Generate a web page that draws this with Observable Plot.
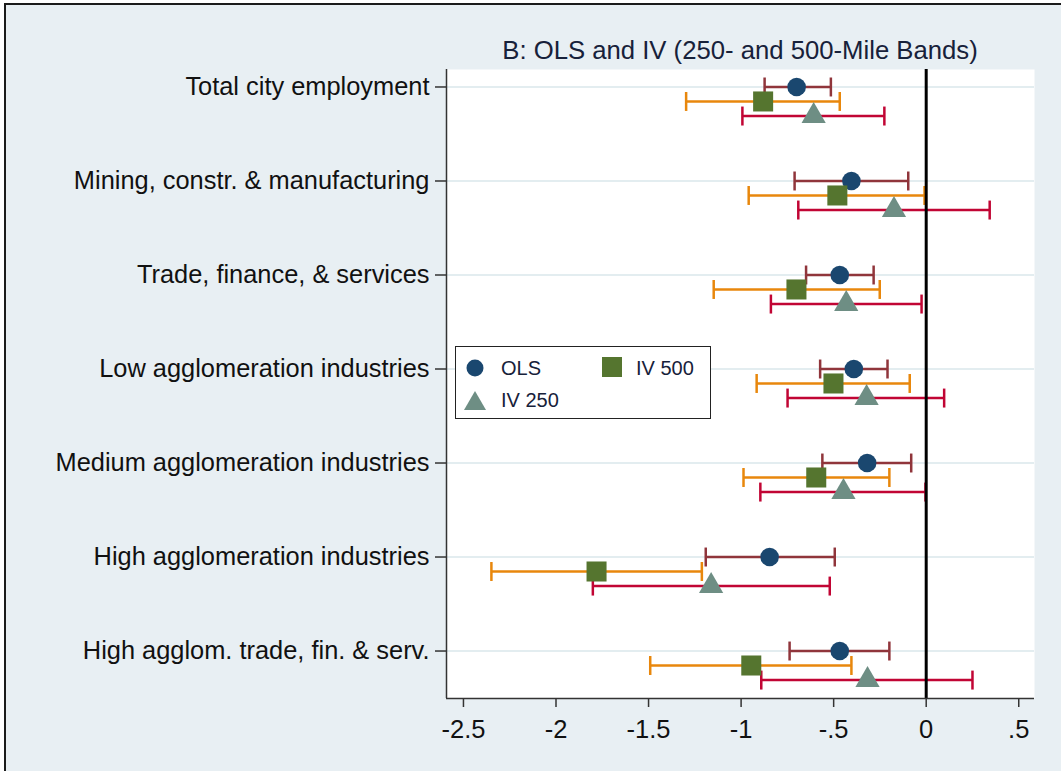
<!DOCTYPE html>
<html>
<head>
<meta charset="utf-8">
<script src="https://cdn.jsdelivr.net/npm/d3@7"></script>
<script src="https://cdn.jsdelivr.net/npm/@observablehq/plot@0.6"></script>
<style>
  html, body { margin: 0; padding: 0; background: #ffffff; }
  body { width: 1061px; height: 771px; position: relative; overflow: hidden;
         font-family: "Liberation Sans", Arial, sans-serif; }
  #bg { position: absolute; left: 4px; top: 3px; width: 1057px; height: 768px;
        background: #e8eff3; border-left: 2px solid #1b1b1b; border-top: 2px solid #1b1b1b;
        box-sizing: border-box; }
  #chart { position: absolute; left: 0; top: 0; }
  #title { position: absolute; left: 446px; width: 588px; top: 35px; height: 30px;
           line-height: 30px; text-align: center; font-size: 25.7px; color: #17213a; white-space: nowrap; }
  #legend { position: absolute; left: 455px; top: 346px; width: 256px; height: 73px;
            background: #ffffff; border: 1.5px solid #222; box-sizing: border-box; }
  #legend svg { position: absolute; left: 0; top: 0; }
  #legend .lab { position: absolute; font-size: 20px; line-height: 22px; color: #17213a; white-space: nowrap; }
</style>
</head>
<body>
<div id="bg"></div>
<div id="chart"></div>
<div id="title">B: OLS and IV (250- and 500-Mile Bands)</div>
<div id="legend">
  <svg width="256" height="73">
    <circle cx="19" cy="21" r="8.5" fill="#1a476f"></circle>
    <rect x="146" y="10" width="20" height="20" fill="#55752f"></rect>
    <path d="M19,44 L30,63 L8,63 Z" fill="#6e8e84"></path>
  </svg>
  <span class="lab" style="left:45px; top:10px;">OLS</span>
  <span class="lab" style="left:180px; top:10px;">IV 500</span>
  <span class="lab" style="left:45px; top:42px;">IV 250</span>
</div>
<script>
// ---- data ----
const categories = [
  "Total city employment",
  "Mining, constr. & manufacturing",
  "Trade, finance, & services",
  "Low agglomeration industries",
  "Medium agglomeration industries",
  "High agglomeration industries",
  "High agglom. trade, fin. & serv."
];
const olsEst   = [-0.700, -0.404, -0.467, -0.391, -0.319, -0.846, -0.467];
const olsLo    = [-0.873, -0.711, -0.649, -0.573, -0.561, -1.191, -0.738];
const olsHi    = [-0.515, -0.097, -0.284, -0.209, -0.081, -0.494, -0.199];
const iv500Est = [-0.881, -0.480, -0.701, -0.501, -0.594, -1.781, -0.945];
const iv500Lo  = [-1.297, -0.959, -1.148, -0.916, -0.987, -2.349, -1.491];
const iv500Hi  = [-0.467, -0.009, -0.251, -0.089, -0.199, -1.212, -0.404];
const iv250Est = [-0.608, -0.174, -0.432, -0.322, -0.447, -1.162, -0.317];
const iv250Lo  = [-0.993, -0.691, -0.839, -0.749, -0.896, -1.801, -0.891];
const iv250Hi  = [-0.226,  0.343, -0.025,  0.097, -0.004, -0.521,  0.250];
const xTicks = [-2.5, -2, -1.5, -1, -0.5, 0, 0.5];
const xTickLabels = ["-2.5", "-2", "-1.5", "-1", "-.5", "0", ".5"];

// ---- series styling ----
const series = [
  {name: "OLS",    est: olsEst,   lo: olsLo,   hi: olsHi,   off: 0,     ci: "#90353b", col: "#1a476f", sym: "circle",   r: 9.3},
  {name: "IV 500", est: iv500Est, lo: iv500Lo, hi: iv500Hi, off: 0.154, ci: "#e8870c", col: "#55752f", sym: "square",   r: 11.3},
  {name: "IV 250", est: iv250Est, lo: iv250Lo, hi: iv250Hi, off: 0.309, ci: "#c10534", col: "#6e8e84", sym: "triangle", r: 9.0}
];
const rowsFor = s => categories.map((c, i) => ({cat: c, y: i + s.off, est: s.est[i], lo: s.lo[i], hi: s.hi[i]}));

const capSymbol = { draw(ctx, size) { const h = Math.sqrt(size); ctx.moveTo(0, -h / 2); ctx.lineTo(0, h / 2); } };

const xDomain = [-2.5916, 0.5851];
const yDomain = [-0.186, 6.505];
const catIdx = categories.map((c, i) => i);

const marks = [
  Plot.frame({fill: "#ffffff", stroke: null}),
  Plot.ruleY(catIdx, {stroke: "#e3edf0", strokeWidth: 2})
];
for (const s of series) {
  const rows = rowsFor(s);
  marks.push(Plot.ruleY(rows, {y: "y", x1: "lo", x2: "hi", stroke: s.ci, strokeWidth: 2.5}));
  marks.push(Plot.dot(rows, {x: "lo", y: "y", symbol: capSymbol, r: 10.7, stroke: s.ci, strokeWidth: 2.5, fill: "none"}));
  marks.push(Plot.dot(rows, {x: "hi", y: "y", symbol: capSymbol, r: 10.7, stroke: s.ci, strokeWidth: 2.5, fill: "none"}));
}
marks.push(Plot.ruleX([0], {stroke: "#000000", strokeWidth: 3}));
for (const s of series) {
  marks.push(Plot.dot(rowsFor(s), {x: "est", y: "y", symbol: s.sym, r: s.r, fill: s.col, stroke: null}));
}
marks.push(Plot.ruleX([xDomain[0]], {stroke: "#333", strokeWidth: 1.5}));
marks.push(Plot.ruleY([yDomain[1]], {stroke: "#333", strokeWidth: 1.5}));
marks.push(Plot.axisX(xTicks, {
  tickSize: 9, tickPadding: 12, stroke: "#333", strokeWidth: 1.5,
  tickFormat: d => xTickLabels[xTicks.indexOf(d)], fontSize: 25.5, fill: "#111", label: null
}));
marks.push(Plot.axisY(catIdx, {
  tickSize: 11, tickPadding: 6, stroke: "#333", strokeWidth: 1.5,
  tickFormat: d => categories[d], fontSize: 25.4, fill: "#111", label: null
}));

const chart = Plot.plot({
  width: 1061,
  height: 771,
  marginLeft: 446,
  marginRight: 27,
  marginTop: 69,
  marginBottom: 73,
  style: {background: "transparent", fontFamily: "'Liberation Sans', Arial, sans-serif", fontSize: "25px", overflow: "visible"},
  x: {domain: xDomain, axis: null},
  y: {domain: yDomain, reverse: true, axis: null},
  marks
});
document.getElementById("chart").appendChild(chart);
</script>
</body>
</html>
